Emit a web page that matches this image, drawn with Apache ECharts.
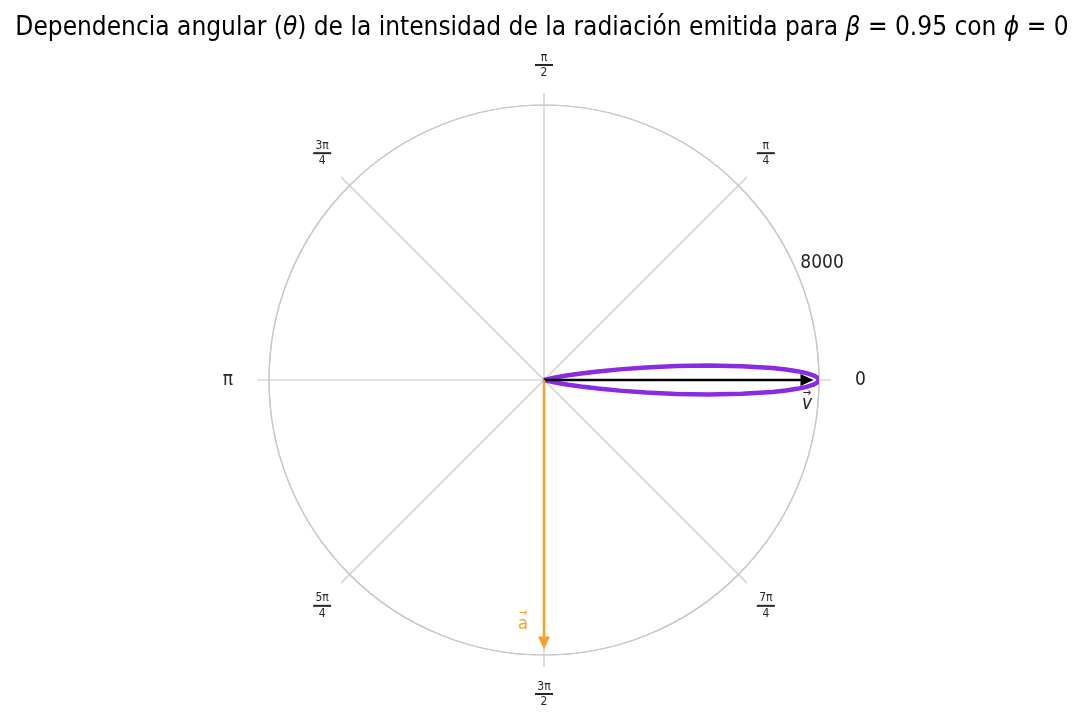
<!DOCTYPE html>
<html>
<head>
<meta charset="utf-8">
<script src="https://cdn.jsdelivr.net/npm/echarts@6/dist/echarts.min.js"></script>
<style>
html,body{margin:0;padding:0;background:#fff;}
#chart{width:1084px;height:722px;}
</style>
</head>
<body>
<div id="chart"></div>
<script>
// Angle of emission (degrees) and intensity read from the lobe
var angleDeg = [0,0.5,1,1.5,2,2.5,3,4,5,6,7,8,9,10,11,12,13,14,15,16,17,18,20,25,30,40,60,90,120,180,240,270,300,320,330,335,340,342,343,344,345,346,347,348,349,350,351,352,353,354,355,356,357,357.5,358,358.5,359,359.5,360];
var intensity = [8000,7959,7837,7638,7370,7039,6655,5774,4817,3866,2987,2221,1589,1091,716,447,261,141,67,26,6,0,8,37,40,23,5,1,0.3,0.1,0.3,1,5,23,40,37,8,0,6,26,67,141,261,447,716,1091,1589,2221,2987,3866,4817,5774,6655,7039,7370,7638,7837,7959,8000];
// arrows: [length, angle]
var velocityArrow = [[0,0],[7650,0]];
var accelArrow = [[0,270],[7650,270]];
var radialTicks = [8000];
var angleTicks = [0,45,90,135,180,225,270,315];
var angleTickLabels = {0:'0',45:'π/4',90:'π/2',135:'3π/4',180:'π',225:'5π/4',270:'3π/2',315:'7π/4'};

var lobe = angleDeg.map(function(a,i){return [intensity[i], a];});

function fmtAngle(v){
  var t = angleTickLabels[v];
  if (t === undefined || v === 360) return '';
  if (t.indexOf('/') < 0) return '{p|' + t + '}';
  var parts = t.split('/');
  return '{n|' + parts[0] + '}\n{bar|}\n{d|' + parts[1] + '}';
}

var chart = echarts.init(document.getElementById('chart'), null, {renderer:'canvas'});
var font = 'DejaVu Sans Condensed';
var option = {
  backgroundColor:'#ffffff',
  animation:false,
  title:{
    text:'{t|Dependencia angular (}{i|θ}{t|) de la intensidad de la radiación emitida para }{i|β}{t| = 0.95 con }{i|ϕ}{t| = 0}',
    left:'center', top:10,
    textStyle:{rich:{
      t:{fontFamily:font,fontSize:26,color:'#000',fontWeight:'normal'},
      i:{fontFamily:font,fontSize:26,color:'#000',fontStyle:'italic',fontWeight:'normal'}
    }}
  },
  polar:{center:[544,380], radius:275},
  angleAxis:{
    type:'value', min:0, max:360, interval:45, startAngle:0, clockwise:false,
    axisLine:{show:true, lineStyle:{color:'#c8c8c8', width:1.2}},
    axisTick:{show:true, length:12, lineStyle:{color:'#c8c8c8', width:1.2}},
    splitLine:{show:true, lineStyle:{color:'#c8c8c8', width:1.2}},
    axisLabel:{
      margin:26,
      formatter:fmtAngle,
      rich:{
        p:{fontFamily:font,fontSize:19,color:'#262626',padding:[0,10,0,10]},
        n:{fontFamily:font,fontSize:12,color:'#262626',align:'center',lineHeight:11},
        bar:{width:18,height:2,lineHeight:4,backgroundColor:'#262626',align:'center'},
        d:{fontFamily:font,fontSize:12,color:'#262626',align:'center',lineHeight:12}
      }
    }
  },
  radiusAxis:{
    type:'value', min:0, max:radialTicks[radialTicks.length-1], interval:8000,
    axisLine:{show:false}, axisTick:{show:false}, axisLabel:{show:false},
    splitLine:{show:true, lineStyle:{color:'#c8c8c8', width:1.2}}
  },
  series:[
    {
      type:'line', coordinateSystem:'polar', data:lobe, showSymbol:false, symbol:'none',
      lineStyle:{color:'#8a2be2', width:4.5}, z:3
    },
    {
      type:'line', coordinateSystem:'polar', z:4,
      data:[{value:velocityArrow[0], symbol:'none'},{value:velocityArrow[1], symbol:'triangle', symbolSize:[12,13], symbolRotate:-90}],
      lineStyle:{color:'#000000', width:2.5}, itemStyle:{color:'#000000'}
    },
    {
      type:'line', coordinateSystem:'polar', z:4,
      data:[{value:accelArrow[0], symbol:'none'},{value:accelArrow[1], symbol:'triangle', symbolSize:[12,13], symbolRotate:180}],
      lineStyle:{color:'#f5a128', width:2.5}, itemStyle:{color:'#f5a128'}
    },
    {
      type:'scatter', coordinateSystem:'polar', symbolSize:0, z:5, silent:true,
      itemStyle:{opacity:1},
      data:[
        {value:velocityArrow[1], label:{show:true, offset:[0,21], formatter:'{ar|→}\n{v|v}',
          rich:{ar:{fontFamily:font,fontSize:11,color:'#262626',align:'center',lineHeight:6},v:{fontFamily:font,fontSize:19,fontStyle:'italic',color:'#262626',align:'center',lineHeight:16}}}},
        {value:accelArrow[1], label:{show:true, offset:[-21,-22], formatter:'{ar|→}\n{a|a}',
          rich:{ar:{fontFamily:font,fontSize:11,color:'#f5a128',align:'center',lineHeight:6},a:{fontFamily:font,fontSize:18,color:'#f5a128',align:'center',lineHeight:16}}}},
        {value:[radialTicks[0], 22.5], label:{show:true, offset:[24,-12], formatter:String(radialTicks[0]),
          fontFamily:font, fontSize:19, color:'#262626'}}
      ],
      label:{position:'inside'}
    }
  ]
};
chart.setOption(option);
</script>
</body>
</html>
